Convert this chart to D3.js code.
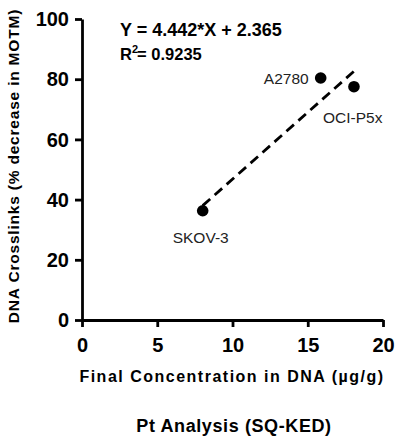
<!DOCTYPE html>
<html>
<head>
<meta charset="utf-8">
<script src="https://cdn.jsdelivr.net/npm/d3@7"></script>
<style>
  body { margin: 0; background: #fff; }
  svg { display: block; font-family: "Liberation Sans", Arial, sans-serif; }
</style>
</head>
<body>
<svg id="chart" width="400" height="440"></svg>
<script>
  const cellLines = ['SKOV-3', 'A2780', 'OCI-P5x']
  const ptConc = [8.02, 15.86, 18.07]
  const crosslinks = [36.3, 80.4, 77.5]
  const xTicks = [0, 5, 10, 15, 20]
  const yTicks = [0, 20, 40, 60, 80, 100]
  const slope = 4.442
  const intercept = 2.365

  const svg = d3.select('#chart')
  const x = d3.scaleLinear().domain([0, 20]).range([82, 383])
  const y = d3.scaleLinear().domain([0, 100]).range([320, 19])

  // axes
  const xAxis = svg.append('g')
    .attr('transform', 'translate(0,320)')
    .call(d3.axisBottom(x).tickValues(xTicks).tickSize(7).tickPadding(11).tickSizeOuter(0))
  const yAxis = svg.append('g')
    .attr('transform', 'translate(82,0)')
    .call(d3.axisLeft(y).tickValues(yTicks).tickSize(7).tickPadding(6).tickSizeOuter(0))

  ;[xAxis, yAxis].forEach(function (g) {
    g.select('.domain').attr('stroke', '#000').attr('stroke-width', 2.8)
    g.selectAll('.tick line').attr('stroke', '#000').attr('stroke-width', 2.8)
    g.selectAll('.tick text')
      .attr('fill', '#000')
      .style('font-size', '20px')
      .style('font-weight', 'bold')
      .style('font-family', '"Liberation Sans", Arial, sans-serif')
  })
  xAxis.selectAll('.tick text').attr('dy', '0.71em')
  yAxis.selectAll('.tick text').attr('dy', '0.33em')

  // regression line
  const xr = d3.extent(ptConc)
  svg.append('line')
    .attr('x1', x(xr[0])).attr('y1', y(slope * xr[0] + intercept))
    .attr('x2', x(xr[1])).attr('y2', y(slope * xr[1] + intercept))
    .attr('stroke', '#000')
    .attr('stroke-width', 2.8)
    .attr('stroke-dasharray', '10,6')

  // points
  svg.selectAll('circle.pt')
    .data(ptConc)
    .enter().append('circle')
    .attr('class', 'pt')
    .attr('cx', function (d) { return x(d) })
    .attr('cy', function (d, i) { return y(crosslinks[i]) })
    .attr('r', 5.8)
    .attr('fill', '#000')

  // point labels
  const labelPos = [
    { dx: -30, dy: 32, anchor: 'start' },
    { dx: -12, dy: 6, anchor: 'end' },
    { dx: -31, dy: 36, anchor: 'start' }
  ]
  svg.selectAll('text.lbl')
    .data(cellLines)
    .enter().append('text')
    .attr('class', 'lbl')
    .attr('x', function (d, i) { return x(ptConc[i]) + labelPos[i].dx })
    .attr('y', function (d, i) { return y(crosslinks[i]) + labelPos[i].dy })
    .attr('text-anchor', function (d, i) { return labelPos[i].anchor })
    .style('font-size', '15.5px')
    .attr('fill', '#222')
    .text(function (d) { return d })

  // equation
  svg.append('text')
    .attr('x', 120).attr('y', 36)
    .style('font-size', '18px').style('font-weight', 'bold')
    .text('Y = ' + slope + '*X + ' + intercept)
  const r2 = svg.append('text')
    .attr('x', 120).attr('y', 60)
    .style('font-size', '16.5px').style('font-weight', 'bold')
  r2.append('tspan').text('R')
  r2.append('tspan').attr('dy', -7).style('font-size', '11px').text('2')
  r2.append('tspan').attr('dy', 7).attr('dx', -1).text('= 0.9235')

  // axis titles
  svg.append('text')
    .attr('x', 232).attr('y', 382)
    .attr('text-anchor', 'middle')
    .style('font-size', '16px').style('font-weight', 'bold')
    .style('letter-spacing', '1.5px')
    .text('Final Concentration in DNA (µg/g)')
  svg.append('text')
    .attr('x', 234).attr('y', 432)
    .attr('text-anchor', 'middle')
    .style('font-size', '18px').style('font-weight', 'bold')
    .style('letter-spacing', '0.6px')
    .text('Pt Analysis (SQ-KED)')
  svg.append('text')
    .attr('transform', 'translate(19,166) rotate(-90)')
    .attr('text-anchor', 'middle')
    .style('font-size', '15.5px').style('font-weight', 'bold')
    .style('letter-spacing', '0.8px')
    .text('DNA Crosslinks (% decrease in MOTM)')
</script>
</body>
</html>
